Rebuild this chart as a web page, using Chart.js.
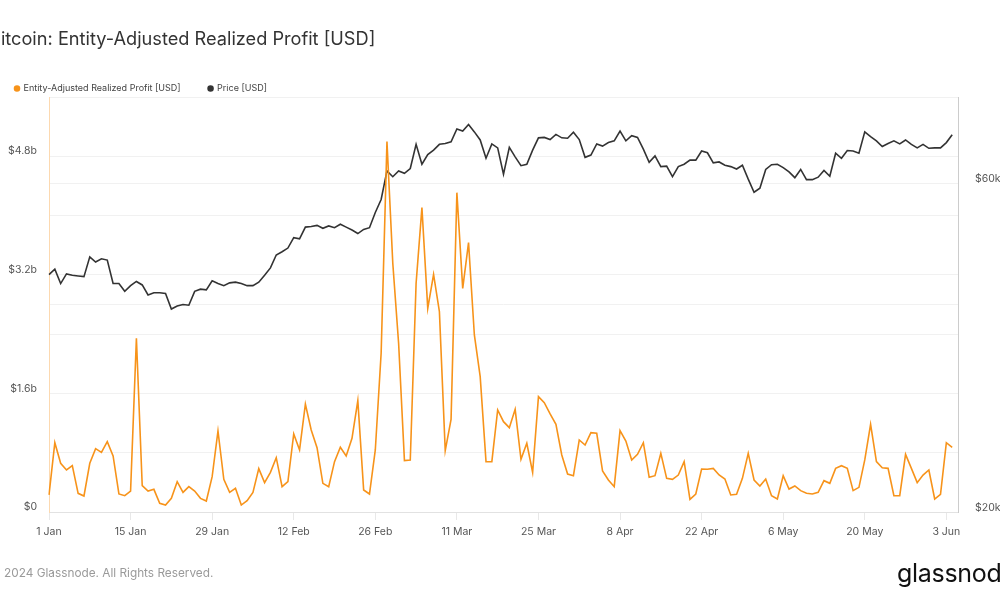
<!DOCTYPE html>
<html>
<head>
<meta charset="utf-8">
<script src="https://cdn.jsdelivr.net/npm/chart.js@4.4.1/dist/chart.umd.min.js"></script>
<style>
  html, body { margin: 0; padding: 0; background: #fff; }
  #wrap { position: relative; width: 1000px; height: 600px; overflow: hidden; font-family: Inter, "Noto Sans", sans-serif; }
  #chart { position: absolute; left: 0; top: 0; }
  #title { position: absolute; left: -11px; top: 27px; font-size: 18.2px; color: #333; white-space: nowrap; }
  #copy { position: absolute; left: -10px; top: 566px; font-size: 11.8px; color: #9a9a9a; white-space: nowrap; }
  #brand { position: absolute; left: 897px; top: 558px; font-size: 25px; color: #111; white-space: nowrap; letter-spacing: -0.3px; }
</style>
</head>
<body>
<div id="wrap">
  <canvas id="chart" width="1000" height="600"></canvas>
  <div id="title">Bitcoin: Entity-Adjusted Realized Profit [USD]</div>
  <div id="copy">© 2024 Glassnode. All Rights Reserved.</div>
  <div id="brand">glassnode</div>
</div>
<script>
// daily values, 1 Jan 2024 .. 4 Jun 2024
var profitB = [
  0.23, 0.935, 0.657, 0.567, 0.625, 0.252, 0.216, 0.657, 0.855, 0.805,
  0.949, 0.756, 0.243, 0.22, 0.283, 2.344, 0.355, 0.283, 0.306, 0.117,
  0.094, 0.184, 0.409, 0.265, 0.342, 0.283, 0.184, 0.148, 0.477, 1.093,
  0.441, 0.265, 0.319, 0.094, 0.153, 0.265, 0.585, 0.396, 0.535, 0.733,
  0.342, 0.409, 1.053, 0.837, 1.457, 1.107, 0.868, 0.387, 0.342, 0.679,
  0.873, 0.756, 0.994, 1.502, 0.297, 0.243, 0.837, 2.141, 4.998, 3.356,
  2.276, 0.693, 0.702, 3.086, 4.107, 2.748, 3.207, 2.704, 0.828, 1.251,
  4.309, 3.018, 3.635, 2.389, 1.826, 0.679, 0.679, 1.377, 1.219, 1.138,
  1.386, 0.711, 0.927, 0.535, 1.556, 1.475, 1.323, 1.183, 0.769, 0.513,
  0.49, 0.972, 0.904, 1.071, 1.062, 0.553, 0.432, 0.342, 1.098, 0.958,
  0.702, 0.778, 0.935, 0.468, 0.49, 0.792, 0.454, 0.441, 0.499, 0.679,
  0.171, 0.243, 0.58, 0.576, 0.589, 0.499, 0.445, 0.23, 0.238, 0.454,
  0.792, 0.432, 0.351, 0.445, 0.22, 0.175, 0.49, 0.31, 0.351, 0.288,
  0.252, 0.243, 0.265, 0.423, 0.387, 0.589, 0.625, 0.589, 0.288, 0.333,
  0.702, 1.183, 0.679, 0.598, 0.589, 0.22, 0.22, 0.778, 0.589, 0.396,
  0.499, 0.567, 0.175, 0.238, 0.935, 0.873
];

var priceK = [
  44.2, 45.0, 42.9, 44.3, 44.1, 44.0, 43.9, 46.9, 46.1, 46.6,
  46.4, 42.9, 42.9, 41.8, 42.6, 43.2, 42.7, 41.3, 41.6, 41.6,
  41.5, 39.4, 39.8, 40.0, 39.9, 41.8, 42.1, 42.0, 43.3, 42.9,
  42.6, 43.0, 43.1, 42.9, 42.6, 42.6, 43.1, 44.1, 45.2, 47.2,
  47.7, 48.3, 50.0, 49.8, 51.8, 51.9, 52.1, 51.6, 52.0, 51.7,
  52.3, 51.8, 51.3, 50.7, 51.4, 51.7, 54.4, 56.8, 62.5, 61.3,
  62.5, 62.0, 63.0, 68.3, 63.9, 66.0, 67.0, 68.3, 68.5, 68.9,
  71.9, 71.4, 73.0, 71.2, 69.3, 65.2, 68.4, 67.5, 61.8, 67.6,
  65.5, 63.6, 63.9, 67.0, 69.8, 69.9, 69.4, 70.6, 69.8, 69.7,
  71.1, 69.4, 65.4, 65.9, 68.4, 67.9, 68.7, 69.1, 71.4, 69.1,
  70.3, 69.9, 67.2, 64.3, 65.7, 63.4, 63.5, 61.3, 63.4, 63.9,
  64.8, 64.8, 66.8, 66.4, 64.2, 64.4, 63.7, 63.4, 62.9, 63.7,
  60.8, 58.2, 59.0, 62.8, 63.8, 63.9, 63.2, 62.3, 61.1, 62.8,
  60.7, 60.7, 61.2, 62.6, 61.4, 66.3, 65.2, 66.9, 66.8, 66.3,
  71.2, 70.1, 69.1, 67.8, 68.5, 69.1, 68.4, 69.3, 68.3, 67.5,
  68.3, 67.4, 67.5, 67.5, 68.7, 70.5
];

var xTickLabels = ['1 Jan', '15 Jan', '29 Jan', '12 Feb', '26 Feb', '11 Mar', '25 Mar', '8 Apr', '22 Apr', '6 May', '20 May', '3 Jun'];
var xTickEvery = 14;

var profitTicks = [0, 0.8, 1.6, 2.4, 3.2, 4.0, 4.8, 5.6];
var profitTickLabels = ['$0', '', '$1.6b', '', '$3.2b', '', '$4.8b', ''];

var priceTicks = [20, 40, 60, 80];
var priceTickLabels = ['$20k', '', '$60k', ''];

// one label per day, plus one spare day so the axis runs a little past the last point
var months = ['Jan', 'Feb', 'Mar', 'Apr', 'May', 'Jun'];
var dates = [];
for (var i = 0; i <= profitB.length; i++) {
    var d = new Date(Date.UTC(2024, 0, 1 + i));
    dates.push(d.getUTCDate() + ' ' + months[d.getUTCMonth()]);
}

var tickFont = { family: 'Inter', size: 10.5 };

new Chart(document.getElementById('chart'), {
    type: 'line',
    data: {
        labels: dates,
        datasets: [{
            label: 'Entity-Adjusted Realized Profit [USD]',
            data: profitB,
            yAxisID: 'yProfit',
            borderColor: '#f7931a',
            backgroundColor: '#f7931a',
            borderWidth: 1.6,
            pointRadius: 0,
            tension: 0
        }, {
            label: 'Price [USD]',
            data: priceK,
            yAxisID: 'yPrice',
            borderColor: '#333333',
            backgroundColor: '#333333',
            borderWidth: 1.6,
            pointRadius: 0,
            tension: 0
        }]
    },
    options: {
        responsive: false,
        animation: false,
        layout: { padding: { left: -13, top: 56, right: 0, bottom: 0 } },
        plugins: {
            legend: {
                align: 'start',
                maxHeight: 41,
                labels: {
                    usePointStyle: true,
                    pointStyle: 'circle',
                    boxWidth: 4,
                    boxHeight: 3.5,
                    padding: 28,
                    color: '#444',
                    font: { family: 'Inter', size: 9 }
                }
            },
            tooltip: { enabled: false }
        },
        scales: {
            x: {
                afterFit: function(s) { s.height = 88; },
                grid: { drawOnChartArea: false, drawTicks: true, tickLength: 8, color: '#e8e8e8' },
                border: { color: '#e2e2e2' },
                ticks: {
                    autoSkip: false,
                    maxRotation: 0,
                    padding: 6,
                    color: '#555',
                    font: tickFont,
                    callback: function(v, i) {
                        return i % xTickEvery === 0 ? xTickLabels[i / xTickEvery] : null;
                    }
                }
            },
            yProfit: {
                position: 'left',
                min: 0,
                max: 5.6,
                afterFit: function(s) { s.width = 62; },
                afterBuildTicks: function(s) {
                    s.ticks = profitTicks.map(function(v) { return { value: v }; });
                },
                grid: { color: '#f1f1f1', drawTicks: false },
                border: { color: '#fcd9b0' },
                ticks: {
                    padding: 12,
                    labelOffset: -5,
                    color: '#555',
                    font: tickFont,
                    callback: function(v, i) { return profitTickLabels[i]; }
                }
            },
            yPrice: {
                type: 'logarithmic',
                position: 'right',
                min: 20,
                max: 80,
                afterFit: function(s) { s.width = 42; },
                afterBuildTicks: function(s) {
                    s.ticks = priceTicks.map(function(v) { return { value: v }; });
                },
                grid: { color: '#f1f1f1', drawTicks: false },
                border: { color: '#cccccc' },
                ticks: {
                    padding: 17,
                    labelOffset: -4,
                    color: '#555',
                    font: tickFont,
                    callback: function(v, i) { return priceTickLabels[i]; }
                }
            }
        }
    }
});
</script>
</body>
</html>
